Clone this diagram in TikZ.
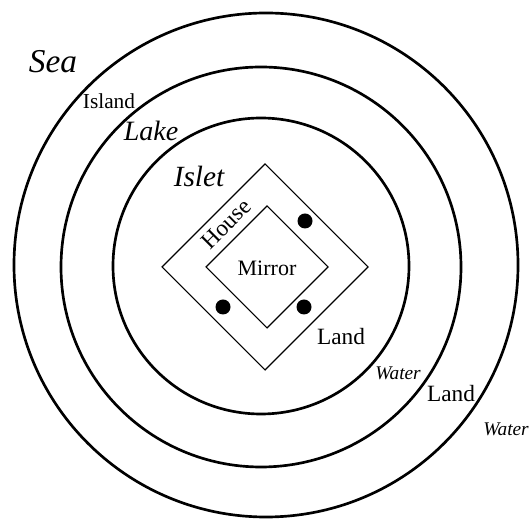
\documentclass[tikz,border=0pt]{standalone}
\usepackage{fontspec}
\setmainfont{Liberation Serif}
\usetikzlibrary{positioning}
\definecolor{inkblack}{RGB}{0,0,0}

\begin{document}
\begin{tikzpicture}[x=0.75pt,y=0.75pt,
    ring/.style={inkblack,line width=2pt},
    wall/.style={inkblack,line width=0.8pt,line join=miter},
    upr/.style={inner sep=0pt,font=\fontsize{#1}{#1}\selectfont},
    ital/.style={inner sep=0pt,font=\fontsize{#1}{#1}\selectfont\itshape}]
        \useasboundingbox (0,0) rectangle (531,520);
        \foreach \cx/\cy/\r in {266/255/252,261/253/200,261/254/148}{
          \draw[ring] (\cx,\cy) circle (\r);
        }
        \draw[wall] (265,356) -- (162,253) -- (265,150) -- (368,253) -- cycle;
        \draw[wall] (267,314) -- (206,253) -- (267,192) -- (328,253) -- cycle;
        \foreach \x/\y in {305/299,223/213,304/213}{
          \fill[inkblack] (\x,\y) circle (7.5);
        }
        \node[ital=25] (sea) at (53,458) {Sea};
        \node[upr=16] (island) at (109,419) {Island};
        \node[ital=21] (lake) at (151,389) {Lake};
        \node[ital=22] (islet) at (199,344) {Islet};
        \node[upr=17.5,rotate=45] (house) at (226,296) {House};
        \node[upr=16.5] (mirror) at (267,252) {Mirror};
        \node[upr=17.5] (landin) at (341,183) {Land};
        \node[ital=14.5] (waterin) at (398,147) {Water};
        \node[upr=17.5] (landout) at (451,126) {Land};
        \node[ital=14.5] (waterout) at (506,91) {Water};
      \end{tikzpicture}
\end{document}
